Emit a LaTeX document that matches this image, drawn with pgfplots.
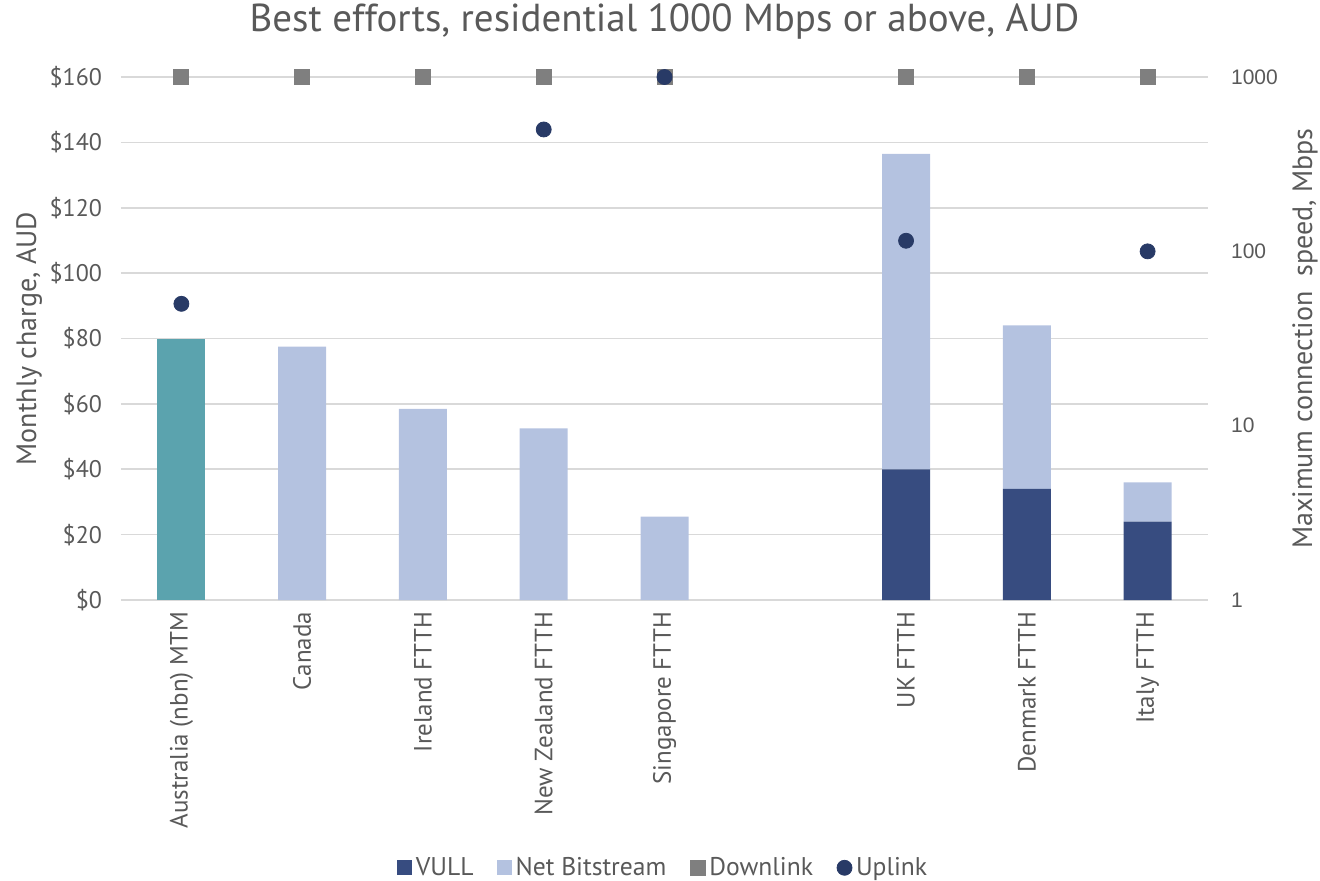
\documentclass[border=0pt]{standalone}
\usepackage{pgfplots}
\pgfplotsset{compat=1.18}
\usepackage{fontspec}
\setmainfont{PT Sans}
\newfontfamily\arialfont{Liberation Sans}

\definecolor{txt}{HTML}{595959}
\definecolor{gridc}{HTML}{D9D9D9}
\definecolor{nbn}{HTML}{5BA3AE}
\definecolor{vull}{HTML}{374C80}
\definecolor{nbs}{HTML}{B4C2E0}
\definecolor{down}{HTML}{7F7F7F}
\definecolor{up}{HTML}{283A66}

\begin{document}
\begin{tikzpicture}
\useasboundingbox (-60.5pt,-140pt) rectangle (599.5pt,300pt);

% monthly charge, stacked bars (left axis)
\begin{axis}[
  at={(0,0)}, anchor=south west,
  scale only axis, width=543.5pt, height=261.5pt,
  xmin=-0.5, xmax=8.5, ymin=0, ymax=160,
  ybar stacked, bar width=24pt,
  axis x line*=bottom, axis y line*=left,
  x axis line style={draw=gridc, line width=0.8pt, -},
  y axis line style={draw=none},
  major tick length=0pt,
  ytick={0,20,...,160},
  yticklabels={\$0,\$20,\$40,\$60,\$80,\$100,\$120,\$140,\$160},
  xtick={0,1,2,3,4,6,7,8},
  xticklabels={Australia (nbn) MTM,Canada,Ireland FTTH,New Zealand FTTH,Singapore FTTH,UK FTTH,Denmark FTTH,Italy FTTH},
  xticklabel style={rotate=90, anchor=east, xshift=-2.5pt, font=\fontsize{12.5}{15}\selectfont, text=txt},
  yticklabel style={xshift=-6pt, font=\fontsize{12}{14}\selectfont, text=txt},
  ymajorgrids, grid style={draw=gridc, line width=0.8pt},
  ylabel={Monthly charge, AUD},
  ylabel style={at={(axis description cs:-0.0846,0.5)}, anchor=center, font=\fontsize{14}{16}\selectfont, text=txt},
  title={Best efforts, residential 1000 Mbps or above, AUD},
  title style={at={(axis description cs:0.5,1)}, anchor=center, yshift=21.5pt, font=\fontsize{19.5}{23}\selectfont, text=txt},
]
\addplot[fill=vull, draw=none] coordinates {(0,0) (1,0) (2,0) (3,0) (4,0) (6,40) (7,34) (8,24)};
\addplot[fill=nbs, draw=none] coordinates {(0,0) (1,77.5) (2,58.5) (3,52.5) (4,25.5) (6,96.5) (7,50) (8,12)};
\addplot[fill=nbn, draw=none] coordinates {(0,80) (1,0) (2,0) (3,0) (4,0) (6,0) (7,0) (8,0)};
\end{axis}

% connection speeds, log scale (right axis)
\begin{axis}[
  at={(0,0)}, anchor=south west,
  scale only axis, width=543.5pt, height=261.5pt,
  xmin=-0.5, xmax=8.5, ymode=log, ymin=1, ymax=1000,
  axis x line=none, axis y line*=right,
  y axis line style={draw=none},
  major tick length=0pt, minor tick length=0pt,
  ytick={1,10,100,1000}, yticklabels={1,10,100,1000},
  yticklabel style={xshift=8pt, font=\arialfont\fontsize{10.5}{12}\selectfont, text=txt},
  ylabel={Maximum connection \ speed, Mbps},
  ylabel style={at={(axis description cs:1.0892,0.5)}, anchor=center, font=\fontsize{14}{16}\selectfont, text=txt},
  clip=false,
  legend style={at={(axis description cs:0.5,-0.512)}, anchor=center, draw=none, fill=none,
    legend columns=4, font=\fontsize{12.8}{15}\selectfont, text=txt,
    /tikz/every even column/.append style={column sep=10pt}},
  legend cell align=left,
]
\addlegendimage{only marks, mark=square*, mark size=3.5pt, color=vull}
\addlegendentry{VULL}
\addlegendimage{only marks, mark=square*, mark size=3.5pt, color=nbs}
\addlegendentry{Net Bitstream}
\addplot[only marks, mark=square*, mark size=3.75pt, color=down] coordinates {(0,1000) (1,1000) (2,1000) (3,1000) (4,1000) (6,1000) (7,1000) (8,1000)};
\addlegendentry{Downlink}
\addplot[only marks, mark=*, mark size=3.75pt, color=up] coordinates {(0,50) (3,500) (4,1000) (6,115) (8,100)};
\addlegendentry{Uplink}
\end{axis}
\end{tikzpicture}
\end{document}
